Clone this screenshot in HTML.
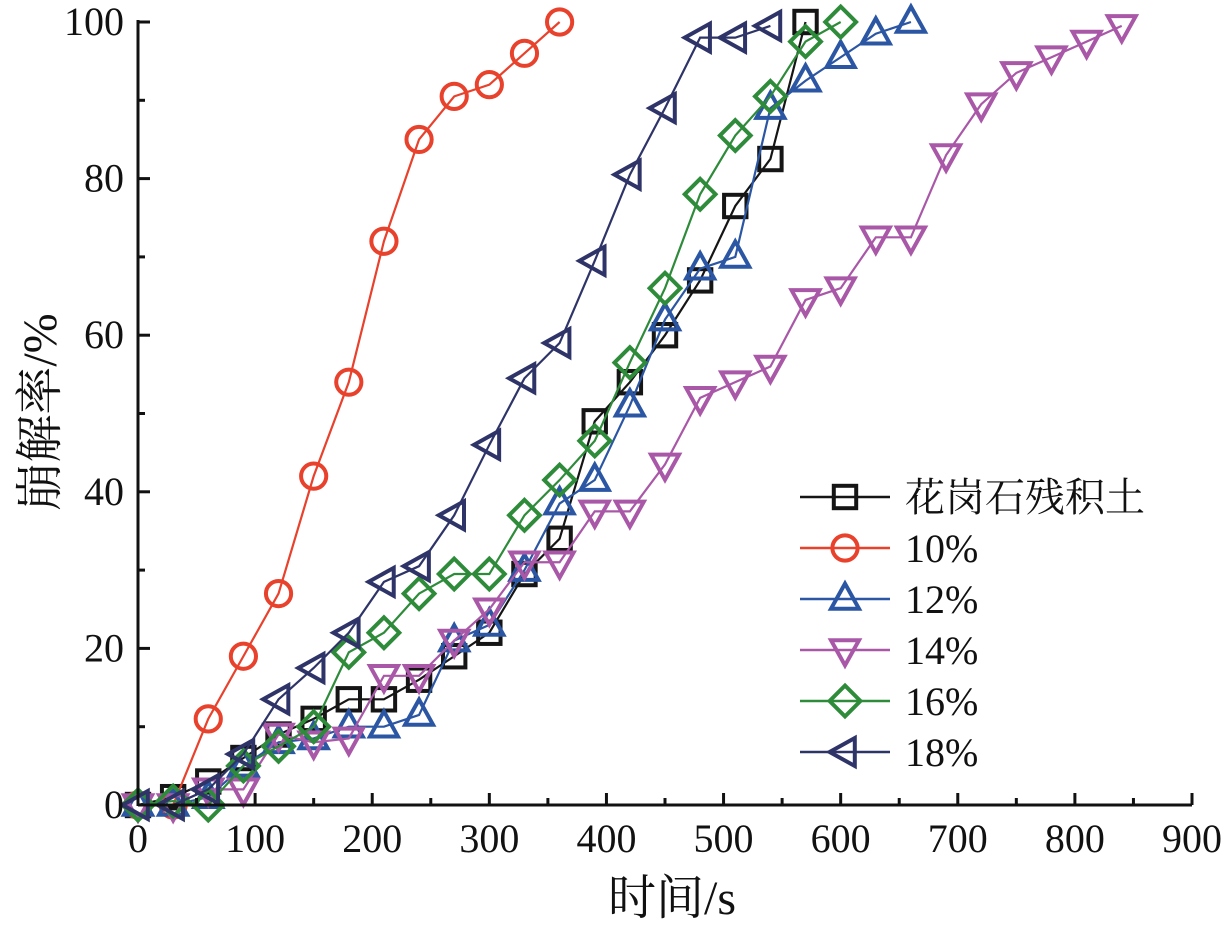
<!DOCTYPE html>
<html><head><meta charset="utf-8"><style>
html,body{margin:0;padding:0;background:#fff;}
svg text{font-family:"Liberation Serif","Noto Serif CJK SC",serif;fill:#111;}
</style></head><body>
<svg id="chart" width="1232" height="927" viewBox="0 0 1232 927" xmlns="http://www.w3.org/2000/svg">
<g id="marks"></g>
<g id="axes"></g>
<g id="legend"></g>
</svg>
<script>
const times = [0,30,60,90,120,150,180,210,240,270,300,330,360,390,420,450,480,510,540,570,600,630,660,690,720,750,780,810,840];
const seriesNames = ["花岗石残积土","10%","12%","14%","16%","18%"];
const granite = [0,1,3,6,9,11,13.5,13.5,16,19,22,29.5,34,49,54,60,67,76.5,82.5,100];
const s10 = [0,0,11,19,27,42,54,72,85,90.5,92,96,100];
const s12 = [0,0,1,5,8,8.5,10,10,11.5,21,23,30,38.5,41.5,51,62,68.5,70,89,92.5,95.5,98.5,100];
const s14 = [0,0,2,2,9,8,8.5,16.5,16.5,21,25,31,31,37.5,37.5,43.5,52,54,56,64.5,66,72.5,72.5,83,89.5,93.5,95.5,97.5,99.5];
const s16 = [0,0.5,0,5,7.5,10,19.5,22,27,29.5,29.5,37,41.5,46.5,56.5,66,78,85.5,90.5,97.5,100];
const s18 = [0,0,2,6.5,13.5,17.5,22,28.5,30.5,37,46,54.5,59,69.5,80.5,89,98,98,99.5];
const xTicks = [0,100,200,300,400,500,600,700,800,900];
const yTicks = [0,20,40,60,80,100];

const NS="http://www.w3.org/2000/svg";
const X0=138,X1=1192,Y0=805,Y1=22;
const xs=v=>X0+(v/900)*(X1-X0);
const ys=v=>Y0-(v/100)*(Y0-Y1);
function mk(tag,attrs,parent){const e=document.createElementNS(NS,tag);for(const k in attrs)e.setAttribute(k,attrs[k]);parent.appendChild(e);return e;}

const colors=["#151515","#e8412c","#2b56a3","#a958a8","#2e8b3a","#2e3468"];
const shapes=["square","circle","up","down","diamond","left"];
const allData=[granite,s10,s12,s14,s16,s18];

function marker(g,shape,cx,cy,color,r){
  let e;
  if(shape==="square") e=mk("rect",{x:cx-r*0.8,y:cy-r*0.8,width:r*1.6,height:r*1.6},g);
  else if(shape==="circle") e=mk("circle",{cx:cx,cy:cy,r:r*0.9},g);
  else {
    let p;
    if(shape==="up") p=[[cx,cy-r*1.1],[cx+r,cy+r*0.7],[cx-r,cy+r*0.7]];
    else if(shape==="down") p=[[cx,cy+r*1.1],[cx+r,cy-r*0.7],[cx-r,cy-r*0.7]];
    else if(shape==="left") p=[[cx-r*1.1,cy],[cx+r*0.7,cy-r],[cx+r*0.7,cy+r]];
    else p=[[cx,cy-r*1.1],[cx+r*1.1,cy],[cx,cy+r*1.1],[cx-r*1.1,cy]];
    e=mk("polygon",{points:p.map(q=>q.join(",")).join(" ")},g);
  }
  e.setAttribute("fill","none");e.setAttribute("stroke",color);e.setAttribute("stroke-width","4");
  return e;
}

const marks=document.getElementById("marks");
allData.forEach((arr,si)=>{
  const g=mk("g",{},marks);
  
  
  const pts=arr.map((v,i)=>xs(times[i])+","+ys(v)).join(" ");
  const line=mk("polyline",{points:pts,fill:"none",stroke:colors[si],"stroke-width":2.2},g);
  
  
  arr.forEach((v,i)=>{
    const m=marker(g,shapes[si],xs(times[i]),ys(v),colors[si],14);
    
    
  });
});

const axes=document.getElementById("axes");
const ax=mk("line",{x1:X0,y1:Y0,x2:X1,y2:Y0,stroke:"#111","stroke-width":3},axes);


const ay=mk("line",{x1:X0,y1:Y0+1,x2:X0,y2:Y1-2,stroke:"#111","stroke-width":3},axes);


xTicks.forEach((t,i)=>{
  mk("line",{x1:xs(t),y1:Y0,x2:xs(t),y2:Y0-12,stroke:"#111","stroke-width":3},axes);
  if(i<xTicks.length-1) mk("line",{x1:xs(t+50),y1:Y0,x2:xs(t+50),y2:Y0-7,stroke:"#111","stroke-width":3},axes);
  const tx=mk("text",{x:xs(t),y:Y0+47,"text-anchor":"middle","font-size":40},axes);
  tx.textContent=t;
  
  
});
yTicks.forEach((t,i)=>{
  mk("line",{x1:X0,y1:ys(t),x2:X0+12,y2:ys(t),stroke:"#111","stroke-width":3},axes);
  if(i<yTicks.length-1) mk("line",{x1:X0,y1:ys(t+10),x2:X0+7,y2:ys(t+10),stroke:"#111","stroke-width":3},axes);
  const tx=mk("text",{x:X0-14,y:ys(t)+13,"text-anchor":"end","font-size":40},axes);
  tx.textContent=t;
  
  
});
const xt=mk("text",{x:672,y:914,"text-anchor":"middle","font-size":48},axes);
xt.textContent="时间/s";


const yt=mk("text",{x:0,y:0,"text-anchor":"middle","font-size":48,transform:"translate(56,412) rotate(-90)"},axes);
yt.textContent="崩解率/%";



const legend=document.getElementById("legend");


seriesNames.forEach((n,i)=>{
  const y=497+i*51;
  const g=mk("g",{},legend);
  
  
  mk("line",{x1:800,y1:y,x2:890,y2:y,stroke:colors[i],"stroke-width":2.5},g);
  marker(g,shapes[i],845,y,colors[i],14);
  const t=mk("text",{x:905,y:y+14,"font-size":40},g);
  t.textContent=n;
});
</script>
</body></html>
